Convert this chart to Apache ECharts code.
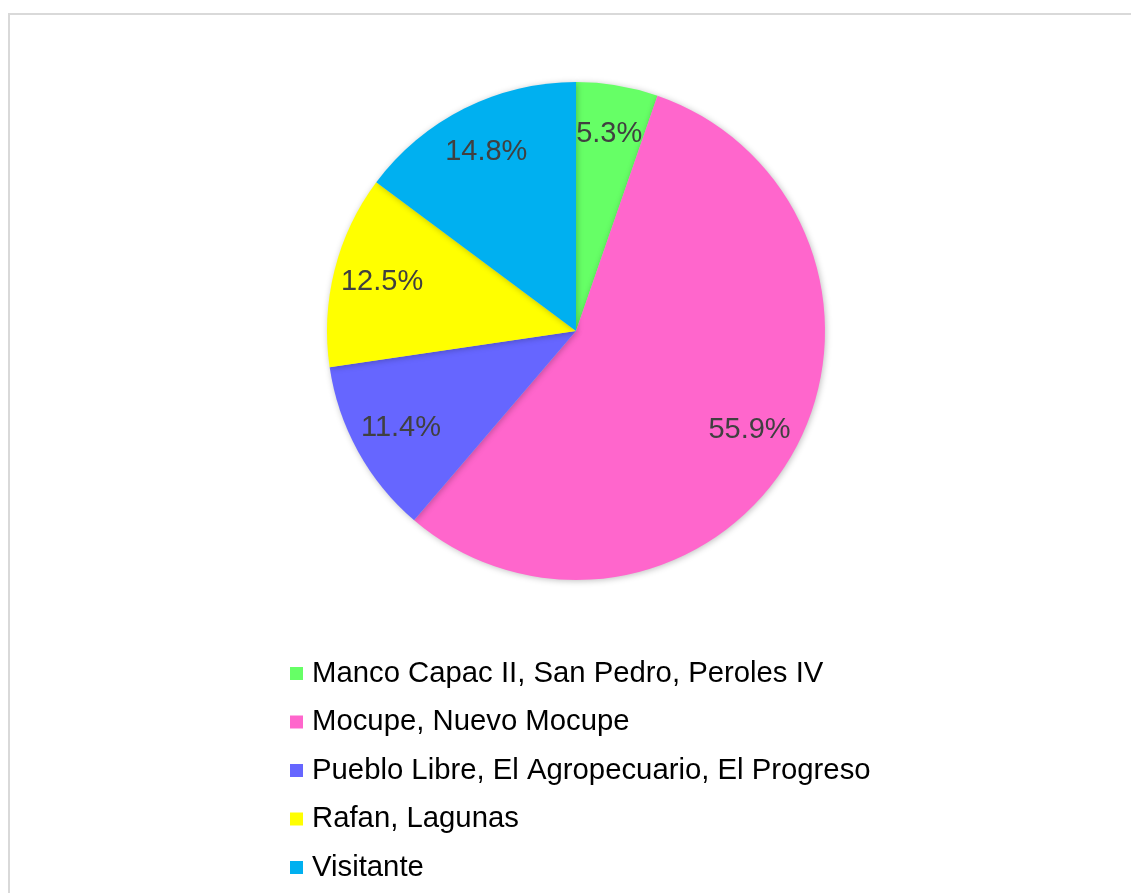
<!DOCTYPE html>
<html>
<head>
<meta charset="utf-8">
<script src="https://cdn.jsdelivr.net/npm/echarts@6/dist/echarts.min.js"></script>
<style>html,body{margin:0;padding:0;background:#fff}#c{width:1131px;height:893px}</style>
</head>
<body>
<div id="c"></div>
<script>
const categories = ['Manco Capac II, San Pedro, Peroles IV','Mocupe, Nuevo Mocupe','Pueblo Libre, El Agropecuario, El Progreso','Rafan, Lagunas','Visitante'];
const values = [5.3, 55.9, 11.4, 12.5, 14.8];
const colors = ['#66FF66','#FF66CC','#6666FF','#FFFF00','#00B0F0'];

const chart = echarts.init(document.getElementById('c'));
const data = categories.map((n,i)=>({name:n,value:values[i],itemStyle:{color:colors[i]}}));
chart.setOption({
  animation:false,
  graphic:[{type:'rect',shape:{x:9,y:14,width:1140,height:900},style:{fill:'none',stroke:'#d9d9d9',lineWidth:2},silent:true,z:-1}],
  legend:{
    orient:'vertical',left:285,top:654,
    itemWidth:13,itemHeight:13,itemGap:19.5,
    icon:'rect',
    textStyle:{fontFamily:'Liberation Sans, Arial',fontSize:29.3,color:'#000',lineHeight:29,padding:[0,0,0,4]},
    data:categories
  },
  series:[
    {type:'pie',center:[576,331],radius:[0,249],startAngle:90,clockwise:true,
     label:{show:false},labelLine:{show:false},
     itemStyle:{shadowBlur:6,shadowColor:'rgba(0,0,0,0.25)',shadowOffsetX:1,shadowOffsetY:1},
     emphasis:{disabled:true},silent:true,data:data},
    {type:'pie',center:[576,331],radius:[145,249],startAngle:90,clockwise:true,
     silent:true,emphasis:{disabled:true},legendHoverLink:false,
     itemStyle:{color:'rgba(0,0,0,0)'},
     label:{show:true,position:'inside',formatter:p=>p.value.toFixed(1)+'%',fontFamily:'Liberation Sans, Arial',fontSize:29,color:'#404040'},
     labelLine:{show:false},
     data:categories.map((n,i)=>({name:n+' ',value:values[i]}))}
  ]
});
</script>
</body>
</html>
